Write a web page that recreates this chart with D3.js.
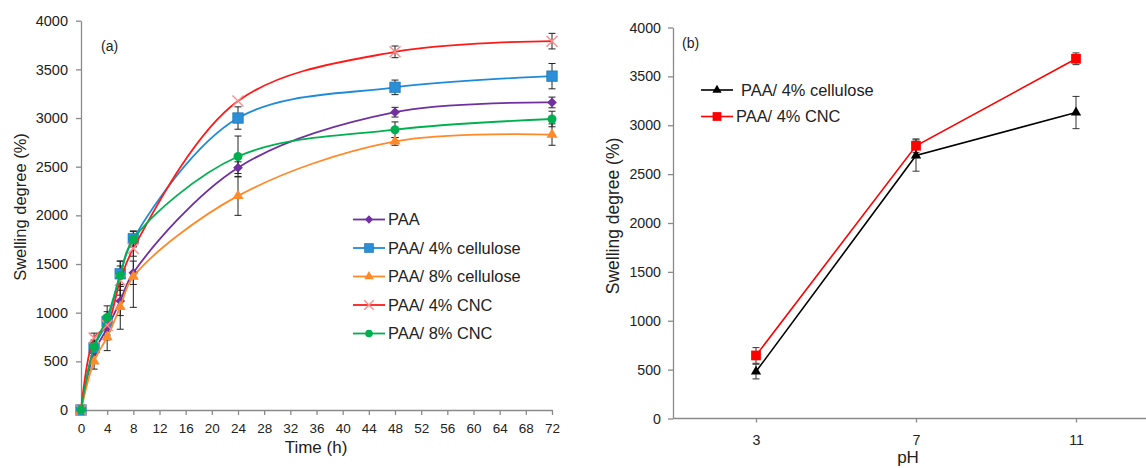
<!DOCTYPE html>
<html>
<head>
<meta charset="utf-8">
<script src="https://cdn.jsdelivr.net/npm/d3@7"></script>
<style>
  body { margin: 0; background: #fff; }
  text { font-family: "Liberation Sans", Arial, sans-serif; fill: #222; }
  .axis path, .axis line { stroke: #8a8a8a; stroke-width: 1.3; }
</style>
</head>
<body>
<script>
// size variables
var width = 1146, height = 468;

// ---- data: chart (a), swelling vs time ----
var times = [0, 2, 4, 6, 8, 24, 48, 72];
var timeTicks = d3.range(0, 73, 4);
var paa      = [0, 590, 840, 1120, 1410, 2490, 3060, 3160];
var paaErr   = [0, 100, 120, 150, 120, 60, 50, 55];
var cell4    = [0, 640, 910, 1400, 1760, 3000, 3315, 3430];
var cell4Err = [0, 80, 100, 130, 80, 115, 75, 130];
var cell8    = [0, 500, 750, 1060, 1370, 2200, 2760, 2830];
var cell8Err = [0, 80, 140, 230, 315, 200, 40, 110];
var cnc4     = [0, 740, 870, 1330, 1660, 3175, 3680, 3790];
var cnc4Err  = [0, 50, 100, 150, 80, 0, 60, 80];
var cnc8     = [0, 650, 950, 1380, 1755, 2605, 2880, 2990];
var cnc8Err  = [0, 60, 120, 150, 80, 210, 80, 80];
var namesA   = ["PAA", "PAA/ 4% cellulose", "PAA/ 8% cellulose", "PAA/ 4% CNC", "PAA/ 8% CNC"];

// ---- data: chart (b), swelling vs pH ----
var phLevels = ["3", "7", "11"];
var cellPh    = [480, 2690, 3130];
var cellPhErr = [75, 160, 165];
var cncPh     = [645, 2790, 3680];
var cncPhErr  = [80, 70, 60];
var namesB    = ["PAA/ 4% cellulose", "PAA/ 4% CNC"];

var yTicks = d3.range(0, 4001, 500);

var svg = d3.select('body').append('svg').attr('width', width).attr('height', height);

// marker drawing helper
function marker(g, type, size, fill, stroke) {
  if (type === 'cross') {
    var h = size / 2;
    g.append('path').attr('d', 'M' + (-h) + ',' + (-h) + 'L' + h + ',' + h + 'M' + (-h) + ',' + h + 'L' + h + ',' + (-h))
      .attr('stroke', stroke).attr('stroke-width', 1.4).attr('fill', 'none');
    return;
  }
  var sym = {
    diamond: d3.symbolDiamond2, square: d3.symbolSquare2,
    triangle: d3.symbolTriangle2, circle: d3.symbolCircle
  }[type];
  var area = { diamond: size * size * 0.5, square: size * size, triangle: size * size * 0.45, circle: Math.PI * size * size / 4 }[type];
  g.append('path').attr('d', d3.symbol().type(sym).size(area)())
    .attr('fill', fill).attr('stroke', stroke || 'none').attr('stroke-width', 0.6);
}

// ================= chart (a) =================
var xA = d3.scaleLinear().domain([0, 72]).range([81, 552]);
var yA = d3.scaleLinear().domain([0, 4000]).range([410, 20.7]);

var gA = svg.append('g');
gA.append('g').attr('class', 'axis').attr('transform', 'translate(81,0)')
  .call(d3.axisLeft(yA).tickValues(yTicks).tickFormat(d3.format('d')).tickSize(5).tickSizeOuter(0).tickPadding(8))
  .selectAll('text').style('font-size', '14.5px');
gA.append('g').attr('class', 'axis').attr('transform', 'translate(0,410)')
  .call(d3.axisBottom(xA).tickValues(timeTicks).tickFormat(d3.format('d')).tickSize(5).tickSizeOuter(0).tickPadding(8))
  .selectAll('text').style('font-size', '13.5px');

gA.append('text').attr('x', 316).attr('y', 453).attr('text-anchor', 'middle')
  .style('font-size', '17px').text('Time (h)');
gA.append('text').attr('transform', 'translate(26,207) rotate(-90)').attr('text-anchor', 'middle')
  .style('font-size', '16.5px').text('Swelling degree (%)');
gA.append('text').attr('x', 101).attr('y', 51).style('font-size', '14px').text('(a)');

var seriesA = [
  { name: namesA[0], vals: paa,   err: paaErr,   color: '#7030a0', mk: 'diamond',  size: 11, mfill: '#7030a0' },
  { name: namesA[1], vals: cell4, err: cell4Err, color: '#1f8bd8', mk: 'square',   size: 12, mfill: '#2a8fd6', mstroke: '#1a6fb0' },
  { name: namesA[2], vals: cell8, err: cell8Err, color: '#ff8a2a', mk: 'triangle', size: 14, mfill: '#ff8a2a' },
  { name: namesA[3], vals: cnc4,  err: cnc4Err,  color: '#ff1a1a', mk: 'cross',    size: 11, mstroke: '#ff8a8a' },
  { name: namesA[4], vals: cnc8,  err: cnc8Err,  color: '#00b050', mk: 'circle',   size: 9,  mfill: '#00b050' }
];

var lineA = d3.line().x(d => xA(d.t)).y(d => yA(d.v)).curve(d3.curveCatmullRom.alpha(0.5));

// error bars first (under lines)
seriesA.forEach(function(s) {
  var pts = times.map((t, i) => ({ t: t, v: s.vals[i], e: s.err[i] })).filter(d => d.e > 0);
  var eb = gA.append('g').attr('stroke', '#222').attr('stroke-width', 1);
  pts.forEach(function(d) {
    var x = xA(d.t);
    eb.append('line').attr('x1', x).attr('x2', x).attr('y1', yA(d.v - d.e)).attr('y2', yA(d.v + d.e));
    eb.append('line').attr('x1', x - 3.5).attr('x2', x + 3.5).attr('y1', yA(d.v - d.e)).attr('y2', yA(d.v - d.e));
    eb.append('line').attr('x1', x - 3.5).attr('x2', x + 3.5).attr('y1', yA(d.v + d.e)).attr('y2', yA(d.v + d.e));
  });
});

seriesA.forEach(function(s) {
  var pts = times.map((t, i) => ({ t: t, v: s.vals[i] }));
  gA.append('path').datum(pts).attr('d', lineA).attr('fill', 'none')
    .attr('stroke', s.color).attr('stroke-width', 1.8);
  pts.forEach(function(d) {
    var m = gA.append('g').attr('transform', 'translate(' + xA(d.t) + ',' + yA(d.v) + ')');
    marker(m, s.mk, s.size, s.mfill, s.mstroke);
  });
});

// legend (a)
seriesA.forEach(function(s, i) {
  var y = 219.5 + i * 28.5;
  var lg = gA.append('g').attr('transform', 'translate(353,' + y + ')');
  lg.append('line').attr('x1', 0).attr('x2', 32).attr('stroke', s.color).attr('stroke-width', 1.8);
  var m = lg.append('g').attr('transform', 'translate(16,0)');
  marker(m, s.mk, s.size * 0.85, s.mfill, s.mstroke);
  lg.append('text').attr('x', 35).attr('dy', '0.35em').style('font-size', '16.4px').text(s.name);
});

// ================= chart (b) =================
var xB = d3.scalePoint().domain(phLevels).range([676, 1156]).padding(0.5);
var yB = d3.scaleLinear().domain([0, 4000]).range([418.5, 27.5]);

var gB = svg.append('g');
gB.append('g').attr('class', 'axis').attr('transform', 'translate(673,0)')
  .call(d3.axisLeft(yB).tickValues(yTicks).tickFormat(d3.format('d')).tickSize(5).tickSizeOuter(0).tickPadding(7))
  .selectAll('text').style('font-size', '14.2px');
gB.append('g').attr('class', 'axis').attr('transform', 'translate(0,418.5)')
  .call(d3.axisBottom(xB).tickSize(4).tickSizeOuter(0).tickPadding(12))
  .selectAll('text').style('font-size', '14.2px');
gB.select('.axis:last-of-type .domain').attr('d', 'M673,0H1156');

gB.append('text').attr('x', 908).attr('y', 463).attr('text-anchor', 'middle')
  .style('font-size', '17px').text('pH');
gB.append('text').attr('transform', 'translate(619,216) rotate(-90)').attr('text-anchor', 'middle')
  .style('font-size', '17.5px').text('Swelling degree (%)');
gB.append('text').attr('x', 682).attr('y', 48).style('font-size', '14px').text('(b)');

var seriesB = [
  { name: namesB[0], vals: cellPh, err: cellPhErr, color: '#000', mk: 'triangle', size: 13, mfill: '#000', tx: 40 },
  { name: namesB[1], vals: cncPh,  err: cncPhErr,  color: '#ff0000', mk: 'square', size: 11, mfill: '#ff0000', tx: 35 }
];

var lineB = d3.line().x(d => xB(d.p)).y(d => yB(d.v));

seriesB.forEach(function(s) {
  var pts = phLevels.map((p, i) => ({ p: p, v: s.vals[i], e: s.err[i] }));
  var eb = gB.append('g').attr('stroke', '#333').attr('stroke-width', 1);
  pts.forEach(function(d) {
    var x = xB(d.p);
    eb.append('line').attr('x1', x).attr('x2', x).attr('y1', yB(d.v - d.e)).attr('y2', yB(d.v + d.e));
    eb.append('line').attr('x1', x - 3.5).attr('x2', x + 3.5).attr('y1', yB(d.v - d.e)).attr('y2', yB(d.v - d.e));
    eb.append('line').attr('x1', x - 3.5).attr('x2', x + 3.5).attr('y1', yB(d.v + d.e)).attr('y2', yB(d.v + d.e));
  });
});

seriesB.forEach(function(s) {
  var pts = phLevels.map((p, i) => ({ p: p, v: s.vals[i] }));
  gB.append('path').datum(pts).attr('d', lineB).attr('fill', 'none')
    .attr('stroke', s.color).attr('stroke-width', 1.6);
  pts.forEach(function(d) {
    var m = gB.append('g').attr('transform', 'translate(' + xB(d.p) + ',' + yB(d.v) + ')');
    marker(m, s.mk, s.size, s.mfill);
  });
});

// legend (b)
seriesB.forEach(function(s, i) {
  var y = 90 + i * 26.5;
  var lg = gB.append('g').attr('transform', 'translate(701,' + y + ')');
  lg.append('line').attr('x1', 0).attr('x2', 32).attr('stroke', s.color).attr('stroke-width', 1.6);
  var m = lg.append('g').attr('transform', 'translate(16,0)');
  marker(m, s.mk, s.size * 0.9, s.mfill);
  lg.append('text').attr('x', s.tx).attr('dy', '0.35em').style('font-size', '16.4px').text(s.name);
});
</script>
</body>
</html>
